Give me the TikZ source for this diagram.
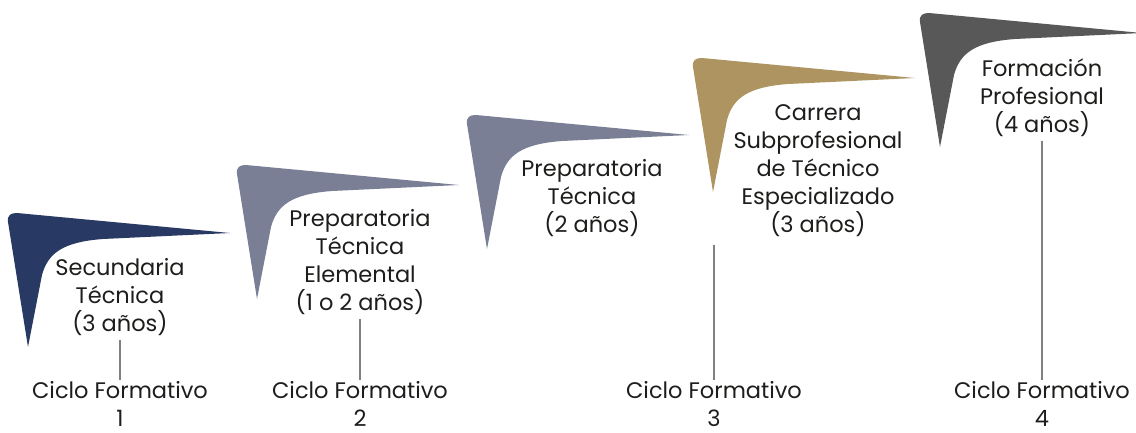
\documentclass[tikz,border=0pt]{standalone}
\usepackage{fontspec}
\setmainfont{Poppins}
\usepackage{tikz}
\usetikzlibrary{positioning}
\definecolor{colorsec}   {RGB}{40 ,58 ,99 }
\definecolor{colorprep}  {RGB}{123,127,150}
\definecolor{colorcarr}  {RGB}{174,148,96 }
\definecolor{colorform}  {RGB}{88 ,88 ,88 }
\definecolor{colortext}  {RGB}{29 ,29 ,27 }
\definecolor{colorline}  {RGB}{128,128,128}

\begin{document}
\begin{tikzpicture}[
    x=1pt, y=-1pt,
    font={\fontsize{22.5}{28}\selectfont},
    bend/.pic={
        \fill[pic actions] (0,9) .. controls (-1,2) and (3,0) .. (9,0) -- (222,20)
            -- (95,26) .. controls (55,29) and (40,40) .. (34,62) -- (20,134) -- cycle;
    },
    txt/.style={text=colortext,align=center,inner sep=1pt},
    link/.style={draw=colorline,line width=1.2pt},
]
    \useasboundingbox (0,0) rectangle (1136,432);

    % Shapes
    \pic[fill=colorsec]  at (8,213)   {bend};
    \pic[fill=colorprep] at (237,165) {bend};
    \pic[fill=colorprep] at (467,115) {bend};
    \pic[fill=colorcarr] at (693,58)  {bend};
    \pic[fill=colorform] at (920,13)  {bend};

    % Text
    \node[txt] (sec)  at (120,297) {Secundaria\\Técnica\\(3 años)};
    \node[txt] (prep) at (360,262) {Preparatoria\\Técnica\\Elemental\\(1 o 2 años)};
    \node[txt] (pret) at (592,198) {Preparatoria\\Técnica\\(2 años)};
    \node[txt] (carr) at (818,171) {Carrera\\Subprofesional\\de Técnico\\Especializado\\(3 años)};
    \node[txt] (form) at (1042,98) {Formación\\Profesional\\(4 años)};

    \node[txt] (ciclo1) at (120,404)  {Ciclo Formativo\\1};
    \node[txt] (ciclo2) at (360,404)  {Ciclo Formativo\\2};
    \node[txt] (ciclo3) at (714,404)  {Ciclo Formativo\\3};
    \node[txt] (ciclo4) at (1042,404) {Ciclo Formativo\\4};
    \coordinate (top3) at (714,245);

    % Lines
    \draw[link] (sec.south)  ++(0,3) -- (ciclo1.north);
    \draw[link] (prep.south) ++(0,3) -- (ciclo2.north);
    \draw[link] (top3) -- (ciclo3.north);
    \draw[link] (form.south) ++(0,3) -- (ciclo4.north);

\end{tikzpicture}
\end{document}
